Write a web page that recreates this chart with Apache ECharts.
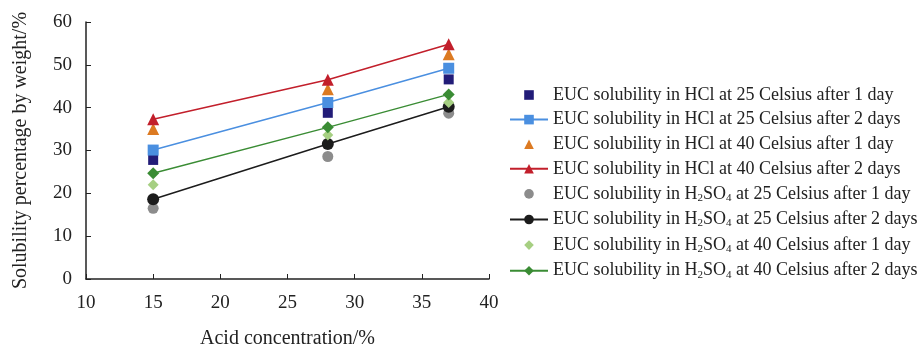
<!DOCTYPE html>
<html>
<head>
<meta charset="utf-8">
<script src="https://cdn.jsdelivr.net/npm/echarts@6/dist/echarts.min.js"></script>
<style>
  html, body { margin: 0; padding: 0; background: #fff; }
  #chart { width: 921px; height: 352px; }
</style>
</head>
<body>
<div id="chart"></div>
<script>
// acid concentration (%)
var conc = [15, 28, 37];

// HCl
var hcl25d1 = [27.8, 38.8, 46.6];
var hcl25d2 = [30.1, 41.2, 49.2];
var hcl40d1 = [35.0, 44.3, 52.5];
var hcl40d2 = [37.3, 46.5, 54.8];
// H2SO4
var h2so425d1 = [16.5, 28.6, 38.7];
var h2so425d2 = [18.6, 31.5, 40.2];
var h2so440d1 = [22.0, 33.6, 41.2];
var h2so440d2 = [24.7, 35.4, 43.1];

var xTicks = [10, 15, 20, 25, 30, 35, 40];
var yTicks = [0, 10, 20, 30, 40, 50, 60];

function pairs(ys) {
    return conc.map(function (x, i) { return [x, ys[i]]; });
}

var font = '"Liberation Serif", "DejaVu Serif", serif';

// after 1 day: markers only (line type with hidden line so legend icon keeps shape)
function dots(name, data, symbol, size, color) {
    return {
        name: name, type: 'line', data: pairs(data),
        symbol: symbol, symbolSize: size, showSymbol: true,
        lineStyle: { width: 0, opacity: 0 },
        itemStyle: { color: color, opacity: 1 }
    };
}
// after 2 days: markers + line
function line(name, data, symbol, size, color) {
    return {
        name: name, type: 'line', data: pairs(data),
        symbol: symbol, symbolSize: size, showSymbol: true,
        lineStyle: { color: color, width: 1.5 },
        itemStyle: { color: color }
    };
}

var chart = echarts.init(document.getElementById('chart'));
chart.setOption({
    animation: false,
    grid: { left: 86, right: 432, top: 22, bottom: 73, outerBoundsMode: 'none' },
    legend: {
        orient: 'vertical',
        left: 509,
        top: 86,
        padding: 0,
        itemWidth: 38,
        itemHeight: 12,
        itemGap: 6.6,
        textStyle: {
            fontFamily: font, fontSize: 18, color: '#222',
            rich: {
                t: { fontFamily: font, fontSize: 18, color: '#222', lineHeight: 20 },
                s: { fontFamily: font, fontSize: 11, color: '#222', lineHeight: 20, padding: [8, 0, 0, 0] }
            }
        },
        formatter: function (name) {
            if (name.indexOf('H2SO4') < 0) return '{t|' + name + '}';
            var parts = name.split('H2SO4');
            return '{t|' + parts[0] + 'H}{s|2}{t|SO}{s|4}{t|' + parts[1] + '}';
        }
    },
    xAxis: {
        type: 'value', min: 10, max: 40, interval: 5,
        name: 'Acid concentration/%',
        nameLocation: 'middle', nameGap: 50,
        nameTextStyle: { fontFamily: font, fontSize: 20, color: '#222' },
        axisLine: { lineStyle: { color: '#222', width: 1.5 } },
        axisTick: { inside: true, length: 5, lineStyle: { color: '#222' } },
        axisLabel: {
            fontFamily: font, fontSize: 19, color: '#222', margin: 15,
            formatter: function (v) { return xTicks.indexOf(v) >= 0 ? v : ''; }
        },
        splitLine: { show: false }
    },
    yAxis: {
        type: 'value', min: 0, max: 60, interval: 10,
        name: 'Solubility percentage by weight/%',
        nameLocation: 'middle', nameGap: 55,
        nameTextStyle: { fontFamily: font, fontSize: 20, color: '#222' },
        axisLine: { show: true, lineStyle: { color: '#222', width: 1.5 } },
        axisTick: { show: true, inside: true, length: 5, lineStyle: { color: '#222' } },
        axisLabel: {
            fontFamily: font, fontSize: 19, color: '#222', margin: 14,
            formatter: function (v) { return yTicks.indexOf(v) >= 0 ? v : ''; }
        },
        splitLine: { show: false }
    },
    series: [
        dots('EUC solubility in HCl at 25 Celsius after 1 day', hcl25d1, 'rect', 10, '#221c78'),
        line('EUC solubility in HCl at 25 Celsius after 2 days', hcl25d2, 'rect', 11, '#4a8fe0'),
        dots('EUC solubility in HCl at 40 Celsius after 1 day', hcl40d1, 'triangle', 12, '#dc7a22'),
        line('EUC solubility in HCl at 40 Celsius after 2 days', hcl40d2, 'triangle', 12, '#c21f2b'),
        dots('EUC solubility in H2SO4 at 25 Celsius after 1 day', h2so425d1, 'circle', 11, '#8c8c8c'),
        line('EUC solubility in H2SO4 at 25 Celsius after 2 days', h2so425d2, 'circle', 12, '#1c1c1c'),
        dots('EUC solubility in H2SO4 at 40 Celsius after 1 day', h2so440d1, 'diamond', 11, '#a6cf82'),
        line('EUC solubility in H2SO4 at 40 Celsius after 2 days', h2so440d2, 'diamond', 12, '#3a8c34')
    ]
});
</script>
</body>
</html>
